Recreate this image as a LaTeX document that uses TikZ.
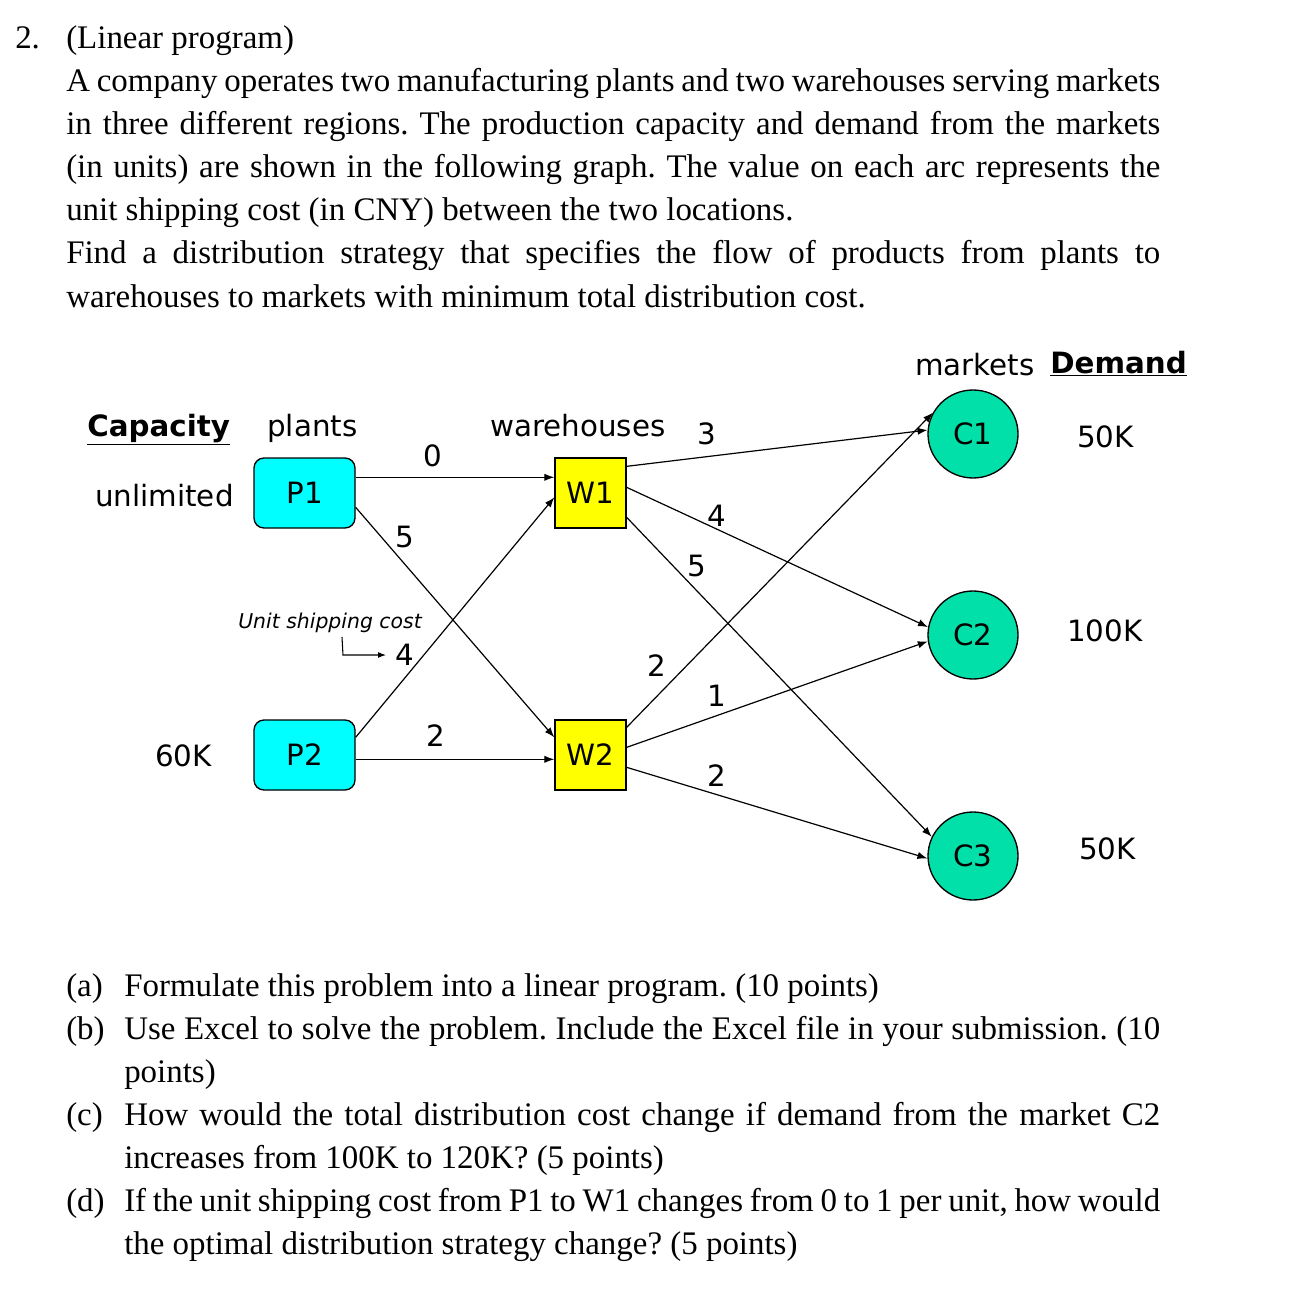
\documentclass[tikz,border=0pt]{standalone}
\usepackage{fontspec}
\setmainfont{Liberation Serif}
\newfontfamily\dv{DejaVu Sans}[BoldFont={DejaVu Sans Bold},ItalicFont={DejaVu Sans Oblique}]
\usetikzlibrary{shapes.geometric,arrows.meta,calc}
\definecolor{mint}{RGB}{0,224,168}
\definecolor{pcyan}{RGB}{0,255,255}
\definecolor{pyellow}{RGB}{255,255,0}
\newcommand{\jline}[1]{\makebox[820.5pt][s]{#1}}
\newcommand{\jsub}[1]{\makebox[777pt][s]{#1}}
\frenchspacing
\begin{document}
\begin{tikzpicture}[x=0.75pt,y=-0.75pt,
 body/.style={inner sep=0pt,anchor=base west,font=\fontsize{24.7}{30}\selectfont},
 lab/.style={inner sep=0pt,anchor=base,font=\dv\fontsize{22}{26}\selectfont},
 labw/.style={inner sep=0pt,anchor=base west,font=\dv\fontsize{22}{26}\selectfont},
 plant/.style={draw,line width=1pt,rounded corners=7.5pt,fill=pcyan,minimum width=75.75pt,minimum height=52.5pt,inner sep=0pt,font=\dv\fontsize{22}{26}\selectfont},
 wh/.style={draw,line width=1pt,fill=pyellow,minimum width=53.25pt,minimum height=52.5pt,inner sep=0pt,font=\dv\fontsize{22}{26}\selectfont},
 mkt/.style={draw,ellipse,line width=1pt,fill=mint,minimum width=67.5pt,minimum height=66pt,inner sep=0pt,font=\dv\fontsize{22}{26}\selectfont},
 flow/.style={line width=0.9pt,-{Latex[length=7.5pt,width=5.5pt]}},
]
\useasboundingbox (0,0) rectangle (1292,1312);

% header text
\node[body] (n2) at (15,49) {2.};
\node[body] (t0) at (66,49) {(Linear program)};
\node[body] (t1) at (66,92) {\jline{A company operates two manufacturing plants and two warehouses serving markets}};
\node[body] (t2) at (66,135) {\jline{in three different regions. The production capacity and demand from the markets}};
\node[body] (t3) at (66,178) {\jline{(in units) are shown in the following graph. The value on each arc represents the}};
\node[body] (t4) at (66,221) {unit shipping cost (in CNY) between the two locations.};
\node[body] (t5) at (66,264) {\jline{Find a distribution strategy that specifies the flow of products from plants to}};
\node[body] (t6) at (66,307) {warehouses to markets with minimum total distribution cost.};

% diagram headings
\node[labw] (cap) at (87,436) {\underline{\textbf{Capacity}}};
\node[labw] (plh) at (267,436) {plants};
\node[labw] (whh) at (490,436) {warehouses};
\node[labw] (mkh) at (915,375) {markets};
\node[labw] (dem) at (1050,373) {\underline{\textbf{Demand}}};
\node[labw] (unl) at (95,506) {unlimited};
\node[labw] (c60) at (155,766) {60K};
\node[labw] (d1) at (1077,447) {50K};
\node[labw] (d2) at (1067,641) {100K};
\node[labw] (d3) at (1079,859) {50K};

% nodes
\node[plant] (P1) at (304.5,493) {P1};
\node[plant] (P2) at (304.5,755) {P2};
\node[wh] (W1) at (590.5,493) {W1};
\node[wh] (W2) at (590.5,755) {W2};
\node[mkt] (C1) at (973,434) {C1};
\node[mkt] (C2) at (973,635) {C2};
\node[mkt] (C3) at (973,856) {C3};

% edges
\draw[flow] ($(P1.north east)+(0,20)$) -- ($(W1.north west)+(0,20)$);
\draw[flow] ($(P1.north east)+(0,50)$) -- ($(W2.north west)+(0,18)$);
\draw[flow] ($(P2.north east)+(0,18)$) -- ($(W1.north west)+(0,40)$);
\draw[flow] ($(P2.north east)+(0,40)$) -- ($(W2.north west)+(0,40)$);
\draw[flow] ($(W1.north east)+(0,9)$) -- (C1.175);
\draw[flow] ($(W1.north east)+(0,30)$) -- (C2.170);
\draw[flow] ($(W1.north east)+(0,60)$) -- (C3.155);
\draw[flow] ($(W2.north east)+(0,8)$) -- (C1.152);
\draw[flow] ($(W2.north east)+(0,28)$) -- (C2.188);
\draw[flow] ($(W2.north east)+(0,48)$) -- (C3.183);

% edge costs
\node[lab] (e1) at (433,466) {0};
\node[lab] (e2) at (405,547) {5};
\node[lab] (e3) at (405,665) {4};
\node[lab] (e4) at (436,746) {2};
\node[lab] (e5) at (707,444) {3};
\node[lab] (e6) at (717,526) {4};
\node[lab] (e7) at (697,576) {5};
\node[lab] (e8) at (657,676) {2};
\node[lab] (e9) at (717,706) {1};
\node[lab] (e10) at (717,786) {2};

% legend
\node[inner sep=0pt,anchor=base west,font=\dv\itshape\fontsize{15.3}{18}\selectfont] (usc) at (238,628) {Unit shipping cost};
\coordinate (la) at (342,637);
\coordinate (lb) at (343,655);
\coordinate (lc) at (386,655);
\draw[line width=0.8pt,-{Latex[length=6pt,width=4.5pt]}] (la) -- (lb) -- (lc);

% questions
\node[body] (qa) at (66,996) {(a)};
\node[body] (qat) at (124,996) {Formulate this problem into a linear program. (10 points)};
\node[body] (qb) at (66,1039) {(b)};
\node[body] (qbt) at (124,1039) {\jsub{Use Excel to solve the problem. Include the Excel file in your submission. (10}};
\node[body] (qbt2) at (124,1082) {points)};
\node[body] (qc) at (66,1125) {(c)};
\node[body] (qct) at (124,1125) {\jsub{How would the total distribution cost change if demand from the market C2}};
\node[body] (qct2) at (124,1168) {increases from 100K to 120K? (5 points)};
\node[body] (qd) at (66,1211) {(d)};
\node[body] (qdt) at (124,1211) {\jsub{If the unit shipping cost from P1 to W1 changes from 0 to 1 per unit, how would}};
\node[body] (qdt2) at (124,1254) {the optimal distribution strategy change? (5 points)};
\end{tikzpicture}
\end{document}
